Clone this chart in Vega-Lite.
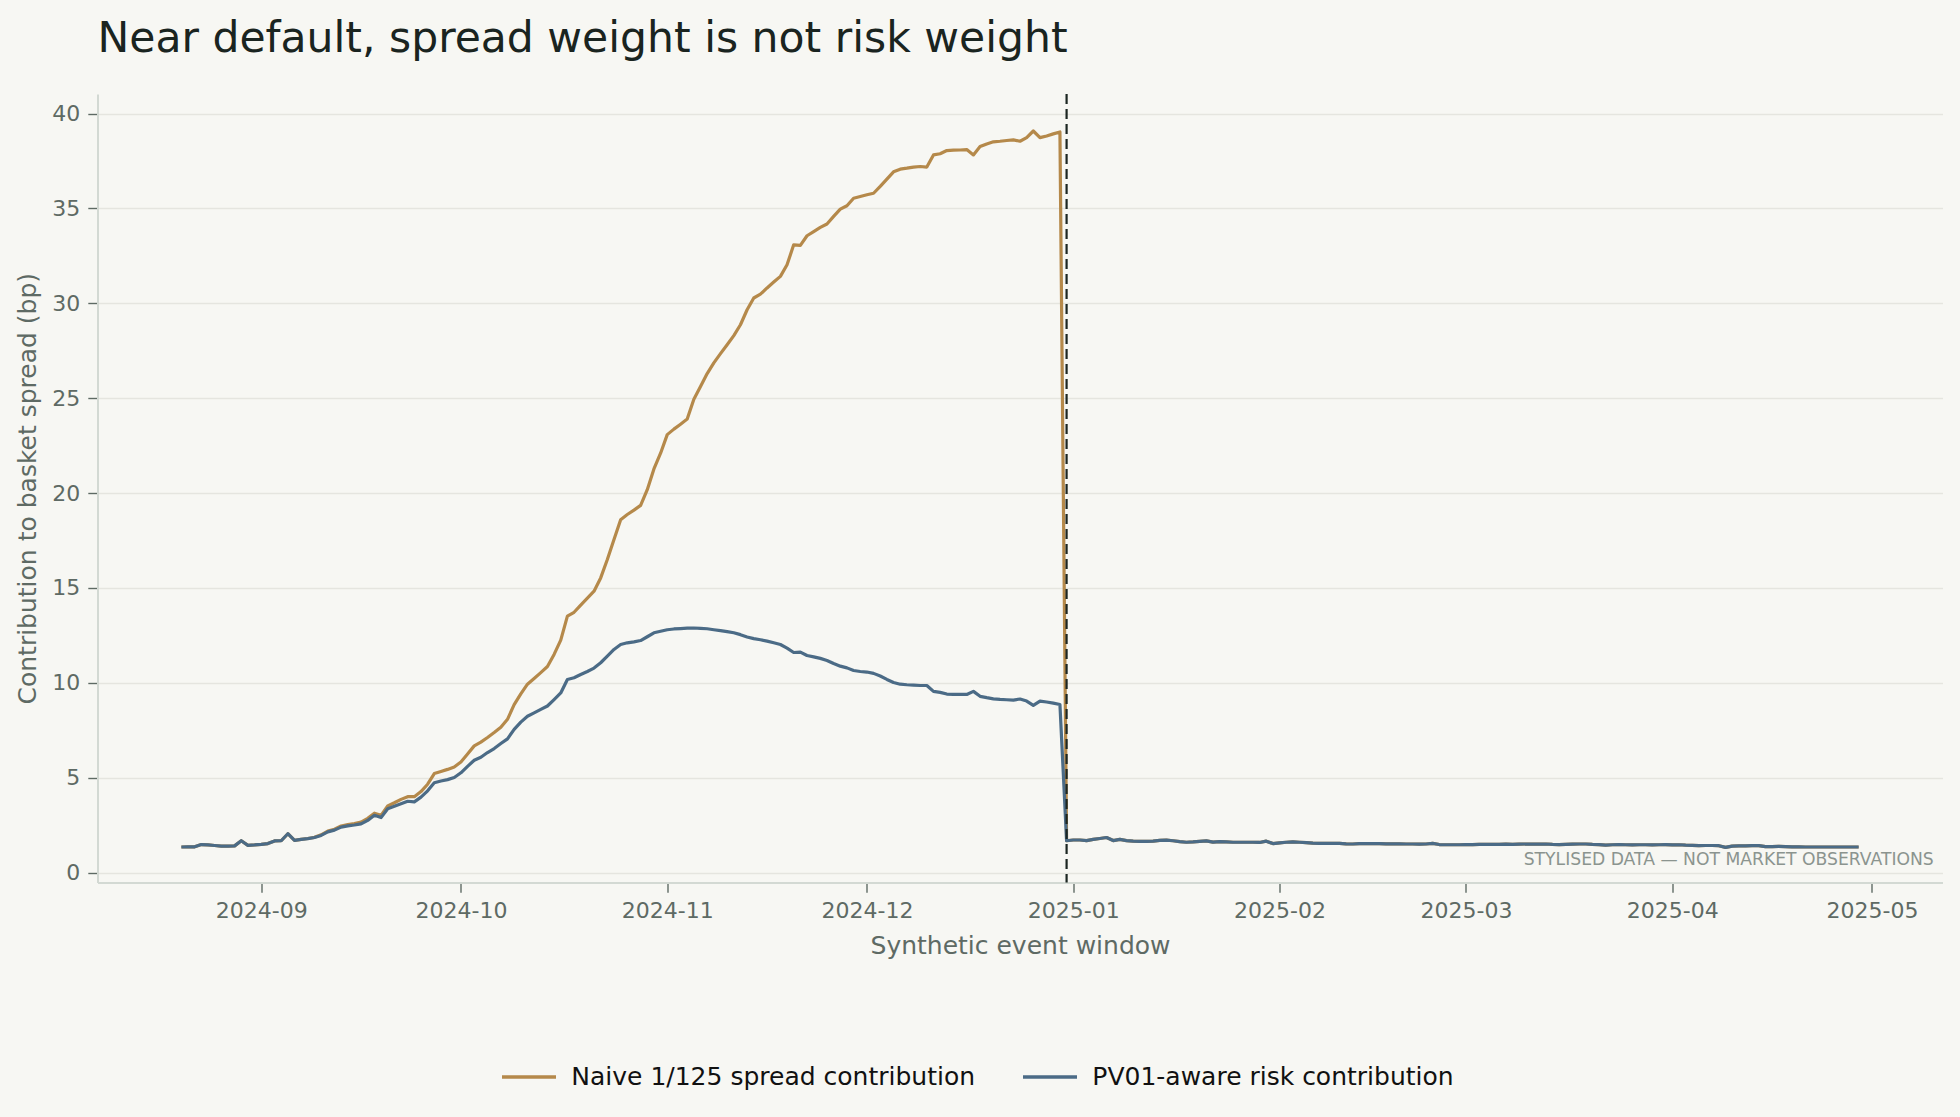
{
  "$schema": "https://vega.github.io/schema/vega-lite/v6.json",
  "width": 1845,
  "height": 788.5,
  "autosize": {"type": "none"},
  "padding": {"left": 97.5, "top": 94, "right": 17.5, "bottom": 234.5},
  "background": "#f7f7f3",
  "config": {"font": "DejaVu Sans", "view": {"stroke": null}},
  "title": {
    "text": "Near default, spread weight is not risk weight",
    "anchor": "start", "frame": "group", "fontSize": 42.5, "fontWeight": "normal",
    "color": "#1a2420", "baseline": "alphabetic", "offset": -2
  },
  "layer": [
    {
      "data": {"values": [
        {"d":"2024-08-20","n":1.35,"r":1.35},{"d":"2024-08-21","n":1.36,"r":1.36},{"d":"2024-08-22","n":1.36,"r":1.36},
        {"d":"2024-08-23","n":1.48,"r":1.48},{"d":"2024-08-24","n":1.46,"r":1.46},{"d":"2024-08-25","n":1.43,"r":1.43},
        {"d":"2024-08-26","n":1.40,"r":1.40},{"d":"2024-08-27","n":1.40,"r":1.40},{"d":"2024-08-28","n":1.41,"r":1.41},
        {"d":"2024-08-29","n":1.68,"r":1.68},{"d":"2024-08-30","n":1.44,"r":1.44},{"d":"2024-08-31","n":1.46,"r":1.46},
        {"d":"2024-09-01","n":1.49,"r":1.49},{"d":"2024-09-02","n":1.53,"r":1.53},{"d":"2024-09-03","n":1.67,"r":1.67},
        {"d":"2024-09-04","n":1.68,"r":1.68},{"d":"2024-09-05","n":2.05,"r":2.05},{"d":"2024-09-06","n":1.70,"r":1.70},
        {"d":"2024-09-07","n":1.75,"r":1.75},{"d":"2024-09-08","n":1.80,"r":1.79},{"d":"2024-09-09","n":1.86,"r":1.85},
        {"d":"2024-09-10","n":1.99,"r":1.96},{"d":"2024-09-11","n":2.19,"r":2.15},{"d":"2024-09-12","n":2.29,"r":2.24},
        {"d":"2024-09-13","n":2.46,"r":2.40},{"d":"2024-09-14","n":2.53,"r":2.46},{"d":"2024-09-15","n":2.58,"r":2.51},
        {"d":"2024-09-16","n":2.66,"r":2.57},{"d":"2024-09-17","n":2.86,"r":2.75},{"d":"2024-09-18","n":3.13,"r":3.02},
        {"d":"2024-09-19","n":3.02,"r":2.90},{"d":"2024-09-20","n":3.51,"r":3.37},{"d":"2024-09-21","n":3.68,"r":3.50},
        {"d":"2024-09-22","n":3.86,"r":3.63},{"d":"2024-09-23","n":4.00,"r":3.76},{"d":"2024-09-24","n":4.00,"r":3.73},
        {"d":"2024-09-25","n":4.27,"r":3.98},{"d":"2024-09-26","n":4.66,"r":4.31},{"d":"2024-09-27","n":5.22,"r":4.74},
        {"d":"2024-09-28","n":5.33,"r":4.83},{"d":"2024-09-29","n":5.44,"r":4.90},{"d":"2024-09-30","n":5.57,"r":5.01},
        {"d":"2024-10-01","n":5.83,"r":5.26},{"d":"2024-10-02","n":6.25,"r":5.60},{"d":"2024-10-03","n":6.68,"r":5.92},
        {"d":"2024-10-04","n":6.88,"r":6.08},{"d":"2024-10-05","n":7.12,"r":6.33},{"d":"2024-10-06","n":7.38,"r":6.54},
        {"d":"2024-10-07","n":7.66,"r":6.80},{"d":"2024-10-08","n":8.08,"r":7.05},{"d":"2024-10-09","n":8.85,"r":7.55},
        {"d":"2024-10-10","n":9.42,"r":7.93},{"d":"2024-10-11","n":9.93,"r":8.24},{"d":"2024-10-12","n":10.23,"r":8.42},
        {"d":"2024-10-13","n":10.54,"r":8.60},{"d":"2024-10-14","n":10.86,"r":8.78},{"d":"2024-10-15","n":11.50,"r":9.12},
        {"d":"2024-10-16","n":12.25,"r":9.47},{"d":"2024-10-17","n":13.52,"r":10.18},{"d":"2024-10-18","n":13.72,"r":10.27},
        {"d":"2024-10-19","n":14.10,"r":10.44},{"d":"2024-10-20","n":14.46,"r":10.60},{"d":"2024-10-21","n":14.83,"r":10.78},
        {"d":"2024-10-22","n":15.53,"r":11.06},{"d":"2024-10-23","n":16.50,"r":11.41},{"d":"2024-10-24","n":17.55,"r":11.76},
        {"d":"2024-10-25","n":18.60,"r":12.02},{"d":"2024-10-26","n":18.87,"r":12.11},{"d":"2024-10-27","n":19.10,"r":12.16},
        {"d":"2024-10-28","n":19.35,"r":12.23},{"d":"2024-10-29","n":20.18,"r":12.43},{"d":"2024-10-30","n":21.27,"r":12.64},
        {"d":"2024-10-31","n":22.10,"r":12.72},{"d":"2024-11-01","n":23.08,"r":12.80},{"d":"2024-11-02","n":23.37,"r":12.84},
        {"d":"2024-11-03","n":23.63,"r":12.86},{"d":"2024-11-04","n":23.90,"r":12.88},{"d":"2024-11-05","n":24.95,"r":12.89},
        {"d":"2024-11-06","n":25.62,"r":12.87},{"d":"2024-11-07","n":26.30,"r":12.85},{"d":"2024-11-08","n":26.86,"r":12.80},
        {"d":"2024-11-09","n":27.35,"r":12.75},{"d":"2024-11-10","n":27.82,"r":12.70},{"d":"2024-11-11","n":28.30,"r":12.64},
        {"d":"2024-11-12","n":28.87,"r":12.54},{"d":"2024-11-13","n":29.66,"r":12.42},{"d":"2024-11-14","n":30.28,"r":12.33},
        {"d":"2024-11-15","n":30.48,"r":12.27},{"d":"2024-11-16","n":30.81,"r":12.20},{"d":"2024-11-17","n":31.12,"r":12.11},
        {"d":"2024-11-18","n":31.42,"r":12.02},{"d":"2024-11-19","n":32.03,"r":11.83},{"d":"2024-11-20","n":33.08,"r":11.60},
        {"d":"2024-11-21","n":33.05,"r":11.62},{"d":"2024-11-22","n":33.56,"r":11.44},{"d":"2024-11-23","n":33.78,"r":11.37},
        {"d":"2024-11-24","n":34.00,"r":11.29},{"d":"2024-11-25","n":34.18,"r":11.18},{"d":"2024-11-26","n":34.58,"r":11.02},
        {"d":"2024-11-27","n":34.96,"r":10.88},{"d":"2024-11-28","n":35.14,"r":10.79},{"d":"2024-11-29","n":35.54,"r":10.65},
        {"d":"2024-11-30","n":35.63,"r":10.60},{"d":"2024-12-01","n":35.72,"r":10.57},{"d":"2024-12-02","n":35.80,"r":10.50},
        {"d":"2024-12-03","n":36.16,"r":10.36},{"d":"2024-12-04","n":36.54,"r":10.18},{"d":"2024-12-05","n":36.93,"r":10.02},
        {"d":"2024-12-06","n":37.07,"r":9.93},{"d":"2024-12-07","n":37.12,"r":9.90},{"d":"2024-12-08","n":37.18,"r":9.88},
        {"d":"2024-12-09","n":37.21,"r":9.86},{"d":"2024-12-10","n":37.18,"r":9.86},{"d":"2024-12-11","n":37.82,"r":9.55},
        {"d":"2024-12-12","n":37.88,"r":9.50},{"d":"2024-12-13","n":38.05,"r":9.41},{"d":"2024-12-14","n":38.07,"r":9.39},
        {"d":"2024-12-15","n":38.08,"r":9.39},{"d":"2024-12-16","n":38.10,"r":9.39},{"d":"2024-12-17","n":37.82,"r":9.55},
        {"d":"2024-12-18","n":38.26,"r":9.29},{"d":"2024-12-19","n":38.40,"r":9.22},{"d":"2024-12-20","n":38.51,"r":9.16},
        {"d":"2024-12-21","n":38.54,"r":9.13},{"d":"2024-12-22","n":38.58,"r":9.11},{"d":"2024-12-23","n":38.61,"r":9.09},
        {"d":"2024-12-24","n":38.54,"r":9.15},{"d":"2024-12-25","n":38.73,"r":9.04},{"d":"2024-12-26","n":39.08,"r":8.81},
        {"d":"2024-12-27","n":38.73,"r":9.04},{"d":"2024-12-28","n":38.82,"r":8.99},{"d":"2024-12-29","n":38.93,"r":8.93},
        {"d":"2024-12-30","n":39.03,"r":8.86},{"d":"2024-12-31","n":1.68,"r":1.68},{"d":"2025-01-01","n":1.72,"r":1.72},
        {"d":"2025-01-02","n":1.72,"r":1.72},{"d":"2025-01-03","n":1.69,"r":1.69},{"d":"2025-01-04","n":1.75,"r":1.75},
        {"d":"2025-01-05","n":1.80,"r":1.80},{"d":"2025-01-06","n":1.85,"r":1.85},{"d":"2025-01-07","n":1.69,"r":1.69},
        {"d":"2025-01-08","n":1.75,"r":1.75},{"d":"2025-01-09","n":1.69,"r":1.69},{"d":"2025-01-10","n":1.66,"r":1.66},
        {"d":"2025-01-11","n":1.65,"r":1.65},{"d":"2025-01-12","n":1.65,"r":1.65},{"d":"2025-01-13","n":1.66,"r":1.66},
        {"d":"2025-01-14","n":1.70,"r":1.70},{"d":"2025-01-15","n":1.71,"r":1.71},{"d":"2025-01-16","n":1.68,"r":1.68},
        {"d":"2025-01-17","n":1.63,"r":1.63},{"d":"2025-01-18","n":1.60,"r":1.60},{"d":"2025-01-19","n":1.62,"r":1.62},
        {"d":"2025-01-20","n":1.65,"r":1.65},{"d":"2025-01-21","n":1.67,"r":1.67},{"d":"2025-01-22","n":1.61,"r":1.61},
        {"d":"2025-01-23","n":1.63,"r":1.63},{"d":"2025-01-24","n":1.62,"r":1.62},{"d":"2025-01-25","n":1.60,"r":1.60},
        {"d":"2025-01-26","n":1.60,"r":1.60},{"d":"2025-01-27","n":1.60,"r":1.60},{"d":"2025-01-28","n":1.60,"r":1.60},
        {"d":"2025-01-29","n":1.59,"r":1.59},{"d":"2025-01-30","n":1.66,"r":1.66},{"d":"2025-01-31","n":1.53,"r":1.53},
        {"d":"2025-02-01","n":1.57,"r":1.57},{"d":"2025-02-02","n":1.60,"r":1.60},{"d":"2025-02-03","n":1.62,"r":1.62},
        {"d":"2025-02-04","n":1.60,"r":1.60},{"d":"2025-02-05","n":1.58,"r":1.58},{"d":"2025-02-06","n":1.55,"r":1.55},
        {"d":"2025-02-07","n":1.54,"r":1.54},{"d":"2025-02-08","n":1.54,"r":1.54},{"d":"2025-02-09","n":1.54,"r":1.54},
        {"d":"2025-02-10","n":1.54,"r":1.54},{"d":"2025-02-11","n":1.52,"r":1.52},{"d":"2025-02-12","n":1.51,"r":1.51},
        {"d":"2025-02-13","n":1.53,"r":1.53},{"d":"2025-02-14","n":1.53,"r":1.53},{"d":"2025-02-15","n":1.53,"r":1.53},
        {"d":"2025-02-16","n":1.53,"r":1.53},{"d":"2025-02-17","n":1.52,"r":1.52},{"d":"2025-02-18","n":1.52,"r":1.52},
        {"d":"2025-02-19","n":1.52,"r":1.52},{"d":"2025-02-20","n":1.51,"r":1.51},{"d":"2025-02-21","n":1.51,"r":1.51},
        {"d":"2025-02-22","n":1.50,"r":1.50},{"d":"2025-02-23","n":1.51,"r":1.51},{"d":"2025-02-24","n":1.54,"r":1.54},
        {"d":"2025-02-25","n":1.48,"r":1.48},{"d":"2025-02-26","n":1.47,"r":1.47},{"d":"2025-02-27","n":1.47,"r":1.47},
        {"d":"2025-02-28","n":1.47,"r":1.47},{"d":"2025-03-01","n":1.48,"r":1.48},{"d":"2025-03-02","n":1.48,"r":1.48},
        {"d":"2025-03-03","n":1.49,"r":1.49},{"d":"2025-03-04","n":1.49,"r":1.49},{"d":"2025-03-05","n":1.49,"r":1.49},
        {"d":"2025-03-06","n":1.49,"r":1.49},{"d":"2025-03-07","n":1.50,"r":1.50},{"d":"2025-03-08","n":1.49,"r":1.49},
        {"d":"2025-03-09","n":1.50,"r":1.50},{"d":"2025-03-10","n":1.51,"r":1.51},{"d":"2025-03-11","n":1.50,"r":1.50},
        {"d":"2025-03-12","n":1.50,"r":1.50},{"d":"2025-03-13","n":1.51,"r":1.51},{"d":"2025-03-14","n":1.49,"r":1.49},
        {"d":"2025-03-15","n":1.48,"r":1.48},{"d":"2025-03-16","n":1.49,"r":1.49},{"d":"2025-03-17","n":1.50,"r":1.50},
        {"d":"2025-03-18","n":1.51,"r":1.51},{"d":"2025-03-19","n":1.51,"r":1.51},{"d":"2025-03-20","n":1.49,"r":1.49},
        {"d":"2025-03-21","n":1.48,"r":1.48},{"d":"2025-03-22","n":1.45,"r":1.45},{"d":"2025-03-23","n":1.47,"r":1.47},
        {"d":"2025-03-24","n":1.48,"r":1.48},{"d":"2025-03-25","n":1.47,"r":1.47},{"d":"2025-03-26","n":1.46,"r":1.46},
        {"d":"2025-03-27","n":1.47,"r":1.47},{"d":"2025-03-28","n":1.47,"r":1.47},{"d":"2025-03-29","n":1.46,"r":1.46},
        {"d":"2025-03-30","n":1.47,"r":1.47},{"d":"2025-03-31","n":1.48,"r":1.48},{"d":"2025-04-01","n":1.46,"r":1.46},
        {"d":"2025-04-02","n":1.47,"r":1.47},{"d":"2025-04-03","n":1.45,"r":1.45},{"d":"2025-04-04","n":1.44,"r":1.44},
        {"d":"2025-04-05","n":1.42,"r":1.42},{"d":"2025-04-06","n":1.43,"r":1.43},{"d":"2025-04-07","n":1.43,"r":1.43},
        {"d":"2025-04-08","n":1.42,"r":1.42},{"d":"2025-04-09","n":1.33,"r":1.33},{"d":"2025-04-10","n":1.40,"r":1.40},
        {"d":"2025-04-11","n":1.41,"r":1.41},{"d":"2025-04-12","n":1.41,"r":1.41},{"d":"2025-04-13","n":1.42,"r":1.42},
        {"d":"2025-04-14","n":1.42,"r":1.42},{"d":"2025-04-15","n":1.37,"r":1.37},{"d":"2025-04-16","n":1.37,"r":1.37},
        {"d":"2025-04-17","n":1.38,"r":1.38},{"d":"2025-04-18","n":1.37,"r":1.37},{"d":"2025-04-19","n":1.36,"r":1.36},
        {"d":"2025-04-20","n":1.36,"r":1.36},{"d":"2025-04-21","n":1.35,"r":1.35},{"d":"2025-04-22","n":1.35,"r":1.35},
        {"d":"2025-04-23","n":1.35,"r":1.35},{"d":"2025-04-24","n":1.35,"r":1.35},{"d":"2025-04-25","n":1.35,"r":1.35},
        {"d":"2025-04-26","n":1.35,"r":1.35},{"d":"2025-04-27","n":1.35,"r":1.35},{"d":"2025-04-28","n":1.35,"r":1.35},
        {"d":"2025-04-29","n":1.35,"r":1.35}
      ]},
      "transform": [{"fold": ["n", "r"], "as": ["series", "value"]}],
      "mark": {"type": "line", "strokeWidth": 3.2, "strokeJoin": "round"},
      "encoding": {
        "x": {
          "field": "d", "type": "temporal", "title": "Synthetic event window",
          "scale": {"type": "utc", "domain": [
            {"year": 2024, "month": 8, "date": 7, "hours": 9, "minutes": 36, "utc": true},
            {"year": 2025, "month": 5, "date": 11, "hours": 14, "minutes": 24, "utc": true}
          ]},
          "axis": {
            "labelExpr": "utcFormat(datum.value, '%Y-%m')",
            "values": [
              {"year": 2024, "month": 9, "date": 1, "utc": true},
              {"year": 2024, "month": 10, "date": 1, "utc": true},
              {"year": 2024, "month": 11, "date": 1, "utc": true},
              {"year": 2024, "month": 12, "date": 1, "utc": true},
              {"year": 2025, "month": 1, "date": 1, "utc": true},
              {"year": 2025, "month": 2, "date": 1, "utc": true},
              {"year": 2025, "month": 3, "date": 1, "utc": true},
              {"year": 2025, "month": 4, "date": 1, "utc": true},
              {"year": 2025, "month": 5, "date": 1, "utc": true}
            ],
            "grid": false, "domainColor": "#d3d9d3", "domainWidth": 2,
            "tickColor": "#5e6a64", "tickSize": 9.7, "tickWidth": 1.4,
            "labelFontSize": 22, "labelColor": "#5e6a64", "labelPadding": 8, "labelFlush": false,
            "titleFontSize": 25, "titleFontWeight": "normal", "titleColor": "#5e6a64", "titlePadding": 12.5
          }
        },
        "y": {
          "field": "value", "type": "quantitative", "title": "Contribution to basket spread (bp)",
          "scale": {"domain": [-0.52, 41.03], "nice": false, "zero": false},
          "axis": {
            "values": [0, 5, 10, 15, 20, 25, 30, 35, 40],
            "gridColor": "#e5e5df", "gridWidth": 1.4,
            "domainColor": "#d3d9d3", "domainWidth": 2,
            "tickColor": "#5e6a64", "tickSize": 9.7, "tickWidth": 1.4,
            "labelFontSize": 22, "labelColor": "#5e6a64", "labelPadding": 8,
            "titleFontSize": 25, "titleFontWeight": "normal", "titleColor": "#5e6a64", "titlePadding": 11
          }
        },
        "color": {
          "field": "series", "type": "nominal",
          "scale": {"domain": ["n", "r"], "range": ["#b5894a", "#4b6b86"]},
          "legend": {
            "title": null, "orient": "none", "direction": "horizontal",
            "legendX": 402.5, "legendY": 954, "padding": 0,
            "symbolType": "stroke", "symbolSize": 2916, "symbolStrokeWidth": 3.5,
            "labelFontSize": 25, "labelColor": "#111111", "labelOffset": 13.3, "columnPadding": 40,
            "labelLimit": 600,
            "labelExpr": "datum.value == 'n' ? 'Naive 1/125 spread contribution' : 'PV01-aware risk contribution'"
          }
        }
      }
    },
    {
      "data": {"values": [{"event": "2024-12-31"}]},
      "mark": {"type": "rule", "strokeDash": [10, 5], "strokeWidth": 2.2, "color": "#1c2622"},
      "encoding": {
        "x": {"field": "event", "type": "temporal", "title": "Synthetic event window"}
      }
    },
    {
      "data": {"values": [{"note": "STYLISED DATA — NOT MARKET OBSERVATIONS"}]},
      "mark": {"type": "text", "align": "right", "baseline": "alphabetic", "fontSize": 17.2, "color": "#8b948f"},
      "encoding": {
        "x": {"datum": {"year": 2025, "month": 5, "date": 10, "hours": 7, "utc": true}, "type": "temporal"},
        "y": {"datum": 0.41, "type": "quantitative"},
        "text": {"field": "note"}
      }
    }
  ]
}
